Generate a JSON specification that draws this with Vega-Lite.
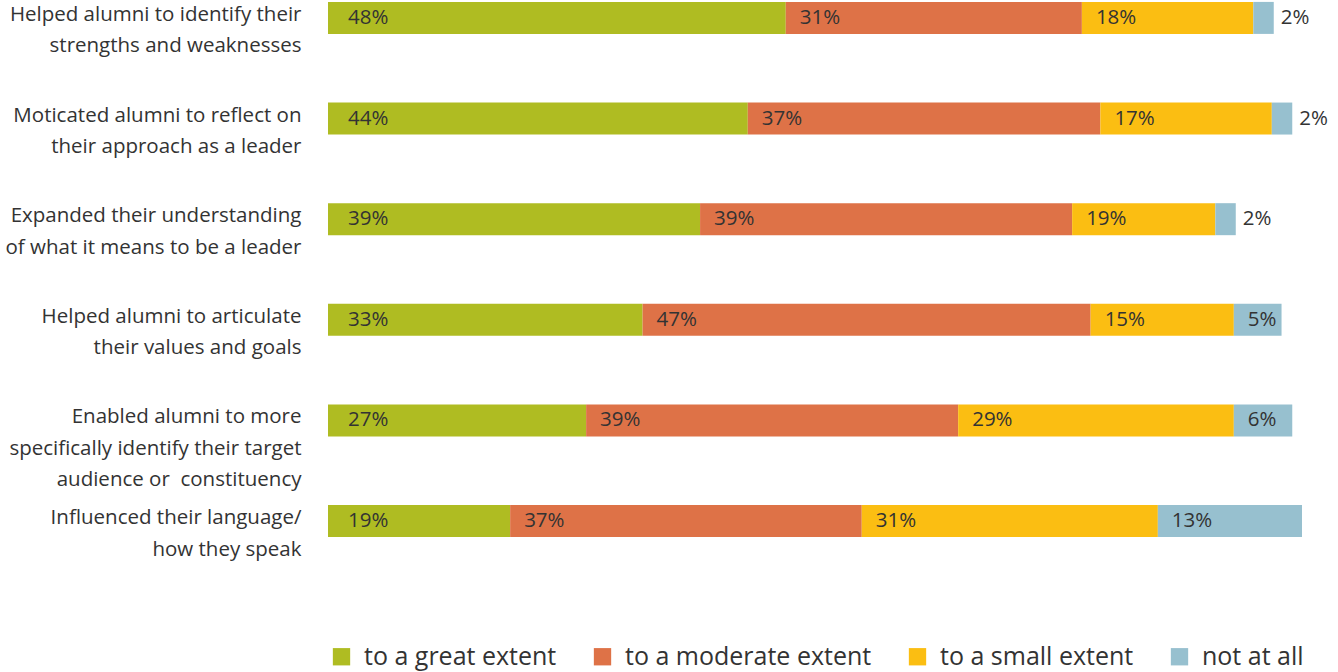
{
  "$schema": "https://vega.github.io/schema/vega-lite/v6.json",
  "autosize": {"type": "none"},
  "padding": {"left": 328, "top": 0, "right": 36, "bottom": 133},
  "width": 974,
  "height": 539,
  "background": "white",
  "config": {"view": {"stroke": null}, "font": "Open Sans"},
  "data": {"values": [
    {"q": "Helped alumni to identify their|strengths and weaknesses", "cat": "to a great extent", "ord": 1, "v": 47.0, "lbl": "48%"},
    {"q": "Helped alumni to identify their|strengths and weaknesses", "cat": "to a moderate extent", "ord": 2, "v": 30.4, "lbl": "31%"},
    {"q": "Helped alumni to identify their|strengths and weaknesses", "cat": "to a small extent", "ord": 3, "v": 17.6, "lbl": "18%"},
    {"q": "Helped alumni to identify their|strengths and weaknesses", "cat": "not at all", "ord": 4, "v": 2.1, "lbl": "2%"},
    {"q": "Moticated alumni to reflect on|their approach as a leader", "cat": "to a great extent", "ord": 1, "v": 43.1, "lbl": "44%"},
    {"q": "Moticated alumni to reflect on|their approach as a leader", "cat": "to a moderate extent", "ord": 2, "v": 36.2, "lbl": "37%"},
    {"q": "Moticated alumni to reflect on|their approach as a leader", "cat": "to a small extent", "ord": 3, "v": 17.6, "lbl": "17%"},
    {"q": "Moticated alumni to reflect on|their approach as a leader", "cat": "not at all", "ord": 4, "v": 2.1, "lbl": "2%"},
    {"q": "Expanded their understanding|of what it means to be a leader", "cat": "to a great extent", "ord": 1, "v": 38.2, "lbl": "39%"},
    {"q": "Expanded their understanding|of what it means to be a leader", "cat": "to a moderate extent", "ord": 2, "v": 38.2, "lbl": "39%"},
    {"q": "Expanded their understanding|of what it means to be a leader", "cat": "to a small extent", "ord": 3, "v": 14.7, "lbl": "19%"},
    {"q": "Expanded their understanding|of what it means to be a leader", "cat": "not at all", "ord": 4, "v": 2.1, "lbl": "2%"},
    {"q": "Helped alumni to articulate|their values and goals", "cat": "to a great extent", "ord": 1, "v": 32.3, "lbl": "33%"},
    {"q": "Helped alumni to articulate|their values and goals", "cat": "to a moderate extent", "ord": 2, "v": 46.0, "lbl": "47%"},
    {"q": "Helped alumni to articulate|their values and goals", "cat": "to a small extent", "ord": 3, "v": 14.7, "lbl": "15%"},
    {"q": "Helped alumni to articulate|their values and goals", "cat": "not at all", "ord": 4, "v": 4.9, "lbl": "5%"},
    {"q": "Enabled alumni to more|specifically identify their target|audience or \u00a0constituency", "cat": "to a great extent", "ord": 1, "v": 26.5, "lbl": "27%"},
    {"q": "Enabled alumni to more|specifically identify their target|audience or \u00a0constituency", "cat": "to a moderate extent", "ord": 2, "v": 38.2, "lbl": "39%"},
    {"q": "Enabled alumni to more|specifically identify their target|audience or \u00a0constituency", "cat": "to a small extent", "ord": 3, "v": 28.3, "lbl": "29%"},
    {"q": "Enabled alumni to more|specifically identify their target|audience or \u00a0constituency", "cat": "not at all", "ord": 4, "v": 6.0, "lbl": "6%"},
    {"q": "Influenced their language/|how they speak", "cat": "to a great extent", "ord": 1, "v": 18.7, "lbl": "19%"},
    {"q": "Influenced their language/|how they speak", "cat": "to a moderate extent", "ord": 2, "v": 36.1, "lbl": "37%"},
    {"q": "Influenced their language/|how they speak", "cat": "to a small extent", "ord": 3, "v": 30.4, "lbl": "31%"},
    {"q": "Influenced their language/|how they speak", "cat": "not at all", "ord": 4, "v": 14.8, "lbl": "13%"}
  ]},
  "transform": [
    {"stack": "v", "groupby": ["q"], "sort": [{"field": "ord", "order": "ascending"}], "as": ["x0", "x1"]}
  ],
  "encoding": {
    "y": {
      "field": "q", "type": "nominal",
      "sort": [
        "Helped alumni to identify their|strengths and weaknesses",
        "Moticated alumni to reflect on|their approach as a leader",
        "Expanded their understanding|of what it means to be a leader",
        "Helped alumni to articulate|their values and goals",
        "Enabled alumni to more|specifically identify their target|audience or \u00a0constituency",
        "Influenced their language/|how they speak"
      ],
      "scale": {"paddingInner": 0.682, "paddingOuter": 0.019},
      "axis": {
        "title": null, "ticks": false, "domain": false, "labelPadding": 27,
        "labelFont": "Open Sans", "labelFontSize": 20.5, "labelColor": "#333333",
        "labelAlign": "right", "labelBaseline": "alphabetic", "labelOffset": 3,
        "labelLineHeight": 31.5, "labelLimit": 400,
        "labelExpr": "split(datum.value, '|')"
      }
    }
  },
  "layer": [
    {
      "mark": {"type": "bar"},
      "encoding": {
        "x": {"field": "x0", "type": "quantitative", "scale": {"domain": [0, 100]}, "axis": null},
        "x2": {"field": "x1"},
        "color": {
          "field": "cat", "type": "nominal",
          "scale": {
            "domain": ["to a great extent", "to a moderate extent", "to a small extent", "not at all"],
            "range": ["#AFBC22", "#DE7247", "#FBBE12", "#97C0CF"]
          },
          "legend": {
            "title": null, "orient": "none", "legendX": 1, "legendY": 644,
            "direction": "horizontal", "symbolType": "square", "symbolSize": 300,
            "symbolStrokeWidth": 0, "symbolOpacity": 1,
            "labelFont": "Open Sans", "labelFontSize": 25, "labelColor": "#333333",
            "labelOffset": 10, "columnPadding": 33, "labelLimit": 400
          }
        }
      }
    },
    {
      "transform": [{"filter": "datum.ord == 1"}],
      "mark": {"type": "text", "align": "left", "baseline": "middle", "dx": 20, "fontSize": 20.5, "font": "Open Sans", "color": "#333333"},
      "encoding": {
        "x": {"field": "x0", "type": "quantitative"},
        "text": {"field": "lbl"}
      }
    },
    {
      "transform": [{"filter": "datum.ord > 1 && datum.v >= 4"}],
      "mark": {"type": "text", "align": "left", "baseline": "middle", "dx": 14, "fontSize": 20.5, "font": "Open Sans", "color": "#333333"},
      "encoding": {
        "x": {"field": "x0", "type": "quantitative"},
        "text": {"field": "lbl"}
      }
    },
    {
      "transform": [{"filter": "datum.v < 4"}],
      "mark": {"type": "text", "align": "left", "baseline": "middle", "dx": 7, "fontSize": 20.5, "font": "Open Sans", "color": "#333333"},
      "encoding": {
        "x": {"field": "x1", "type": "quantitative"},
        "text": {"field": "lbl"}
      }
    }
  ]
}
